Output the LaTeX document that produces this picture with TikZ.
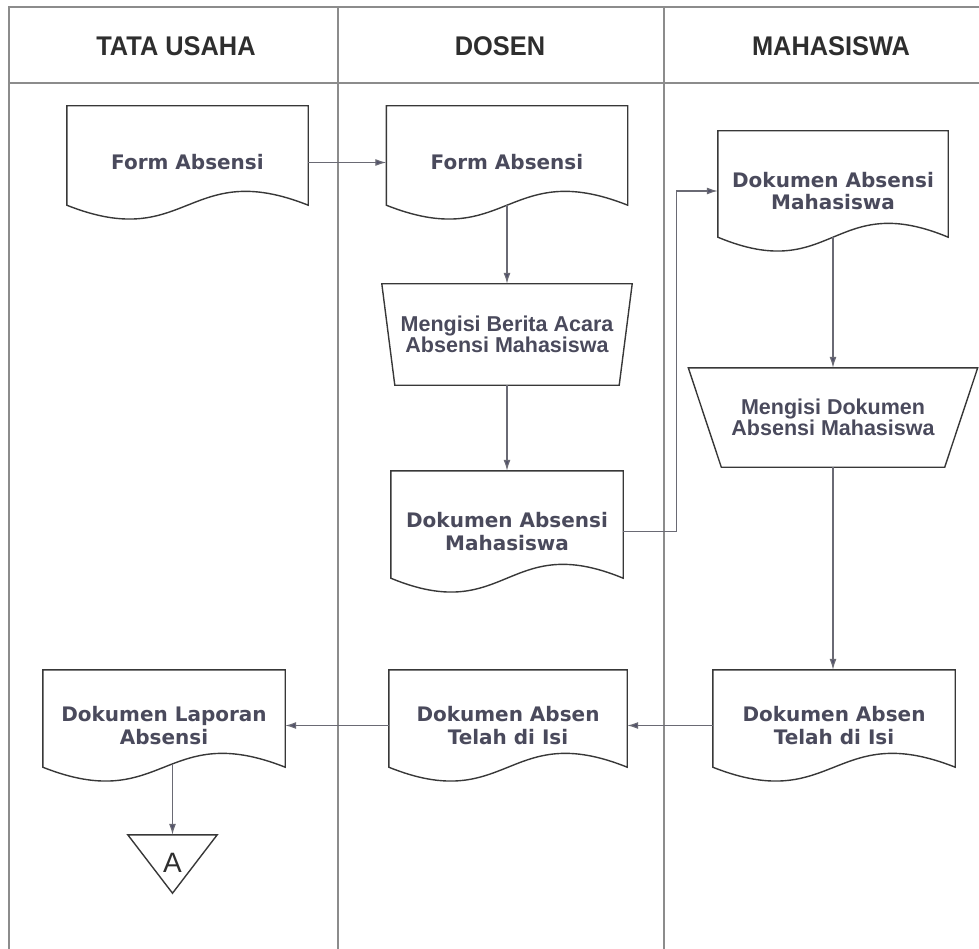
\documentclass[tikz,border=0pt]{standalone}
\usepackage{fontspec}
\setmainfont{Liberation Sans}
\newfontfamily\docfont{DejaVu Sans}
\usetikzlibrary{arrows.meta,calc}

\definecolor{frameline}{HTML}{8C8C8C}
\definecolor{shapeline}{HTML}{383838}
\definecolor{flowline}{HTML}{6A6A74}
\definecolor{arrowfill}{HTML}{50506A}
\definecolor{headtext}{HTML}{2E2E2E}
\definecolor{boxtext}{HTML}{4A4A5C}

% document symbol: straight top and sides, wavy bottom
\newcommand\docoutline[1]{%
  \draw[outline] (#1.north west) -- (#1.north east) -- ($(#1.south east)+(0,-14)$)
    .. controls ($(#1.south)+(0,-62)$) and ($(#1.south)+(0,34)$) .. ($(#1.south west)+(0,-14)$) -- cycle;}
% manual operation: trapezoid, wide side on top
\newcommand\trapoutline[2]{%
  \draw[outline] (#1.north west) -- (#1.north east) -- ($(#1.south east)+(-#2,0)$)
    -- ($(#1.south west)+(#2,0)$) -- cycle;}

\begin{document}
\begin{tikzpicture}[x=1pt,y=-1pt,
  lane/.style={draw=frameline,line width=1.1pt},
  lanehead/.style={font=\bfseries\fontsize{27}{28}\selectfont,text=headtext,inner sep=0pt},
  docbox/.style={draw=none,inner sep=0pt,align=center,text=boxtext,
    font=\docfont\bfseries\fontsize{20}{22.5}\selectfont},
  trapbox/.style={draw=none,inner sep=0pt,align=center,text=boxtext,
    font=\bfseries\fontsize{21.5}{21}\selectfont},
  outline/.style={draw=shapeline,line width=1.4pt,line join=miter},
  flow/.style={draw=flowline,line width=1.2pt,-{Latex[length=11pt,width=7pt,fill=arrowfill]}},
]
\useasboundingbox (0,0) rectangle (979,949);

% swimlane frame
\draw[lane] (979,7) -- (9,7) -- (9,949);
\draw[lane] (9,83) -- (979,83);
\draw[lane] (338,7) -- (338,949);
\draw[lane] (664,7) -- (664,949);

\node[lanehead] (h1) at (176,46) {\scalebox{0.94}[1]{TATA USAHA}};
\node[lanehead] (h2) at (500,46) {\scalebox{0.94}[1]{DOSEN}};
\node[lanehead] (h3) at (831,46) {\scalebox{0.94}[1]{MAHASISWA}};

% TATA USAHA
\node[docbox,minimum width=241pt,minimum height=113pt] (tu1) at (187.5,162.5) {Form Absensi};
\node[docbox,minimum width=242pt,minimum height=111pt] (tu4) at (164,725.5) {Dokumen Laporan\\Absensi};
\node[draw=none,inner sep=0pt,minimum width=89pt,minimum height=58pt,text=headtext,
  font=\fontsize{28}{28}\selectfont] (conA) at (172.5,864) {\raisebox{3pt}{A}};

% DOSEN
\node[docbox,minimum width=241pt,minimum height=113pt] (ds1) at (507,162.5) {Form Absensi};
\node[trapbox,minimum width=250pt,minimum height=101pt] (ds2) at (507,334.5) {Mengisi Berita Acara\\Absensi Mahasiswa};
\node[docbox,minimum width=232pt,minimum height=121pt] (ds3) at (507,531.5) {Dokumen Absensi\\Mahasiswa};
\node[docbox,minimum width=238pt,minimum height=111pt] (ds4) at (508,725.5) {Dokumen Absen\\Telah di Isi};

% MAHASISWA
\node[docbox,minimum width=230pt,minimum height=120pt] (mh1) at (833,191) {Dokumen Absensi\\Mahasiswa};
\node[trapbox,minimum width=289pt,minimum height=99pt] (mh2) at (833,417.5) {Mengisi Dokumen\\Absensi Mahasiswa};
\node[docbox,minimum width=242pt,minimum height=111pt] (mh3) at (834,725.5) {Dokumen Absen\\Telah di Isi};

% symbol outlines
\docoutline{tu1}
\docoutline{tu4}
\docoutline{ds1}
\docoutline{ds3}
\docoutline{ds4}
\docoutline{mh1}
\docoutline{mh3}
\trapoutline{ds2}{13}
\trapoutline{mh2}{33}
\draw[outline] (conA.north west) -- (conA.north east) -- (conA.south) -- cycle;

% flow
\draw[flow] (tu1.east) -- (ds1.west);
\draw[flow] ($(ds1.south)+(0,-14)$) -- (ds2.north);
\draw[flow] (ds2.south) -- (ds3.north);
\draw[flow] (ds3.east) -- ++(53,0) |- (mh1.west);
\draw[flow] ($(mh1.south)+(0,-14)$) -- (mh2.north);
\draw[flow] (mh2.south) -- (mh3.north -| mh2.south);
\draw[flow] (mh3.west) -- (ds4.east);
\draw[flow] (ds4.west) -- (tu4.east);
\draw[flow] ($(tu4.south -| conA.north)+(0,-17)$) -- (conA.north);
\end{tikzpicture}
\end{document}
